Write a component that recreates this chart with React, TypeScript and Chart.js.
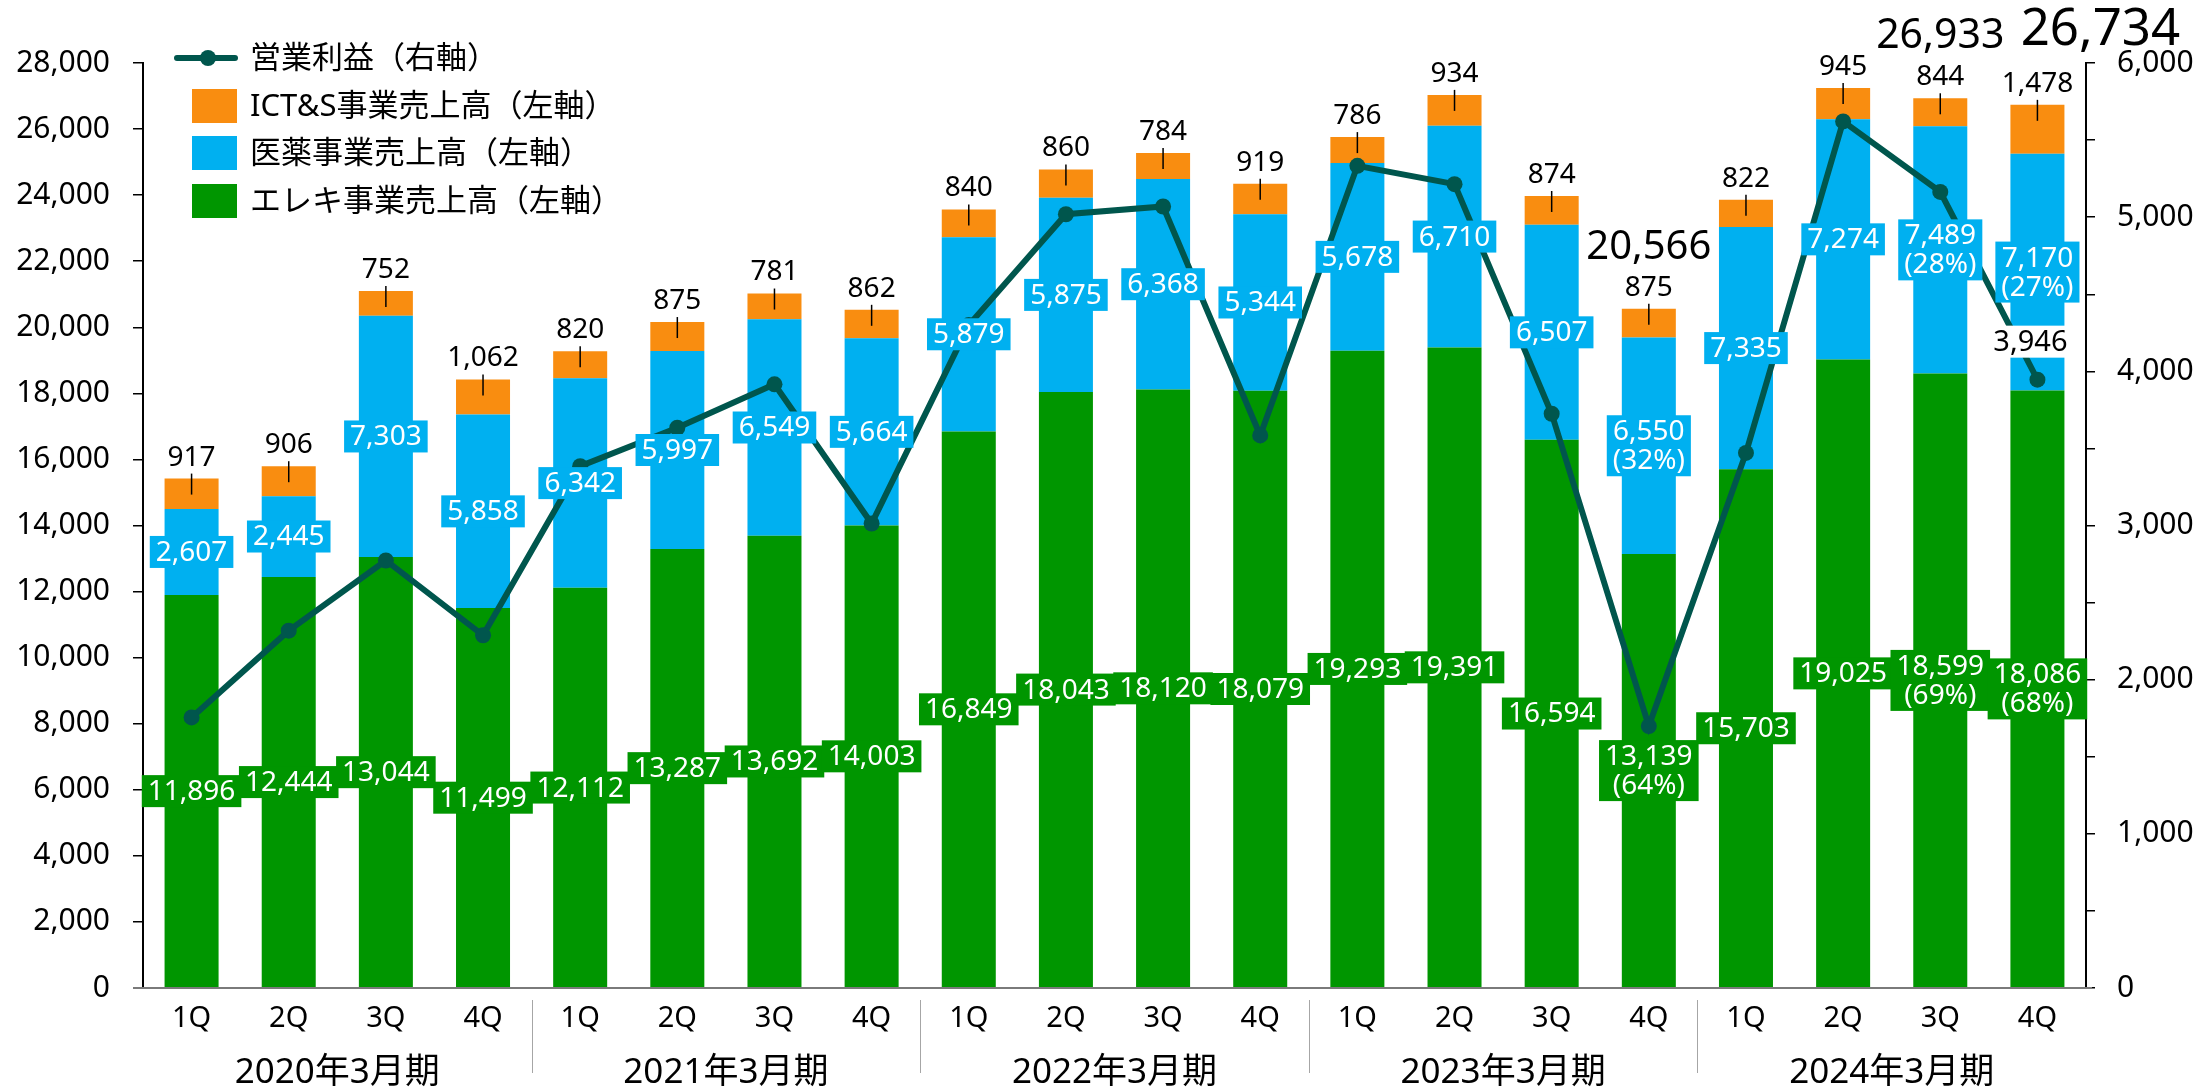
import React, { useEffect, useRef } from 'react';
import { Chart, registerables } from 'chart.js';

Chart.register(...registerables);

// ---------- data ----------
const quarters = [
  '1Q', '2Q', '3Q', '4Q',
  '1Q', '2Q', '3Q', '4Q',
  '1Q', '2Q', '3Q', '4Q',
  '1Q', '2Q', '3Q', '4Q',
  '1Q', '2Q', '3Q', '4Q',
];
const fiscalYears = ['2020年3月期', '2021年3月期', '2022年3月期', '2023年3月期', '2024年3月期'];

const elekiSales = [11896, 12444, 13044, 11499, 12112, 13287, 13692, 14003, 16849, 18043, 18120, 18079, 19293, 19391, 16594, 13139, 15703, 19025, 18599, 18086];
const pharmaSales = [2607, 2445, 7303, 5858, 6342, 5997, 6549, 5664, 5879, 5875, 6368, 5344, 5678, 6710, 6507, 6550, 7335, 7274, 7489, 7170];
const ictSales = [917, 906, 752, 1062, 820, 875, 781, 862, 840, 860, 784, 919, 786, 934, 874, 875, 822, 945, 844, 1478];
const operatingProfit = [1755, 2318, 2773, 2288, 3385, 3634, 3916, 3013, 4300, 5019, 5069, 3584, 5333, 5214, 3725, 1699, 3471, 5621, 5164, 3946];

// share (%) shown under some segment labels
const elekiShare: (number | null)[] = [null, null, null, null, null, null, null, null, null, null, null, null, null, null, null, 64, null, null, 69, 68];
const pharmaShare: (number | null)[] = [null, null, null, null, null, null, null, null, null, null, null, null, null, null, null, 32, null, null, 28, 27];
// total sales labels shown above some bars
const totalLabels: (number | null)[] = [null, null, null, null, null, null, null, null, null, null, null, null, null, null, null, 20566, null, null, 26933, 26734];
// operating profit labels shown for some points
const profitLabels: (number | null)[] = [null, null, null, null, null, null, null, null, null, null, null, null, null, null, null, null, null, null, null, 3946];

const leftMax = 28000;
const leftStep = 2000;
const rightMax = 6000;
const rightStep = 500;

const legendItems = ['営業利益（右軸）', 'ICT&S事業売上高（左軸）', '医薬事業売上高（左軸）', 'エレキ事業売上高（左軸）'];

// ---------- styles ----------
const GREEN = '#009600';
const BLUE = '#00B0F0';
const ORANGE = '#F98D10';
const LINE = '#00564D';
const FONT = "'Noto Sans', 'Noto Sans CJK JP', sans-serif";

const fmt = (v: number) => v.toLocaleString('en-US');

function drawBoxLabel(
  ctx: CanvasRenderingContext2D,
  lines: string[],
  cx: number,
  cy: number,
  bg: string,
  color: string,
  size: number,
) {
  ctx.save();
  ctx.font = `${size}px ${FONT}`;
  const lineH = 29;
  const padX = 6;
  const padY = 1.5;
  const w = Math.max(...lines.map((l) => ctx.measureText(l).width)) + padX * 2;
  const h = lines.length * lineH + padY * 2;
  ctx.fillStyle = bg;
  ctx.fillRect(cx - w / 2, cy - h / 2, w, h);
  ctx.fillStyle = color;
  ctx.textAlign = 'center';
  ctx.textBaseline = 'middle';
  lines.forEach((l, k) => {
    ctx.fillText(l, cx, cy - h / 2 + padY + lineH * (k + 0.5) + 1);
  });
  ctx.restore();
}

const totalStyle: Record<number, { dx: number; dy: number; size: number }> = {
  15: { dx: 0, dy: -61, size: 40 },
  18: { dx: 0, dy: -62, size: 41 },
  19: { dx: 63, dy: -74, size: 51 },
};

const labelsPlugin = {
  id: 'customLabels',
  afterDatasetsDraw(chart: any) {
    const ctx: CanvasRenderingContext2D = chart.ctx;
    const gMeta = chart.getDatasetMeta(0);
    const bMeta = chart.getDatasetMeta(1);
    const oMeta = chart.getDatasetMeta(2);
    const lMeta = chart.getDatasetMeta(3);
    for (let i = 0; i < quarters.length; i++) {
      const g = gMeta.data[i];
      const b = bMeta.data[i];
      const o = oMeta.data[i];
      // green label
      const gl = [fmt(elekiSales[i])];
      if (elekiShare[i] != null) gl.push(`(${elekiShare[i]}%)`);
      drawBoxLabel(ctx, gl, g.x, (g.y + g.base) / 2, GREEN, '#fff', 28);
      // blue label
      const bl = [fmt(pharmaSales[i])];
      if (pharmaShare[i] != null) bl.push(`(${pharmaShare[i]}%)`);
      drawBoxLabel(ctx, bl, b.x, (b.y + b.base) / 2, BLUE, '#fff', 28);
      // orange label above with leader tick
      const top = o.y;
      ctx.save();
      ctx.strokeStyle = '#000';
      ctx.lineWidth = 1.5;
      ctx.beginPath();
      ctx.moveTo(o.x, top - 5);
      ctx.lineTo(o.x, top + 16);
      ctx.stroke();
      ctx.fillStyle = '#000';
      ctx.font = `28px ${FONT}`;
      ctx.textAlign = 'center';
      ctx.textBaseline = 'middle';
      ctx.fillText(fmt(ictSales[i]), o.x, top - 21);
      // total labels
      const t = totalLabels[i];
      if (t != null) {
        const st = totalStyle[i] || { dx: 0, dy: -61, size: 40 };
        ctx.font = `${st.size}px ${FONT}`;
        ctx.fillText(fmt(t), o.x + st.dx, top + st.dy);
      }
      ctx.restore();
      // profit labels
      const p = profitLabels[i];
      if (p != null) {
        const pt = lMeta.data[i];
        drawBoxLabel(ctx, [fmt(p)], pt.x - 7, pt.y - 38, '#fff', '#000', 29);
      }
    }
  },
  afterDraw(chart: any) {
    const ctx: CanvasRenderingContext2D = chart.ctx;
    const xs = chart.scales.x;
    const area = chart.chartArea;
    ctx.save();
    // x axis line
    ctx.strokeStyle = '#7a7a7a';
    ctx.lineWidth = 2;
    ctx.beginPath();
    ctx.moveTo(area.left - 10, area.bottom);
    ctx.lineTo(area.right + 6, area.bottom);
    ctx.stroke();
    // separators and year labels
    ctx.strokeStyle = '#a6a6a6';
    ctx.lineWidth = 1;
    for (let g = 0; g < fiscalYears.length; g++) {
      const x0 = xs.getPixelForValue(g * 4);
      const x3 = xs.getPixelForValue(g * 4 + 3);
      if (g > 0) {
        const sx = Math.round((xs.getPixelForValue(g * 4 - 1) + x0) / 2) + 0.5;
        ctx.beginPath();
        ctx.moveTo(sx, area.bottom + 12);
        ctx.lineTo(sx, area.bottom + 85);
        ctx.stroke();
      }
      ctx.fillStyle = '#000';
      ctx.font = `35px ${FONT}`;
      ctx.textAlign = 'center';
      ctx.textBaseline = 'middle';
      ctx.fillText(fiscalYears[g], (x0 + x3) / 2, area.bottom + 85);
    }
    // legend
    const lx = 175;
    const rows = [58, 106, 153, 201];
    ctx.strokeStyle = LINE;
    ctx.lineWidth = 6;
    ctx.lineCap = 'round';
    ctx.beginPath();
    ctx.moveTo(lx + 2, rows[0]);
    ctx.lineTo(lx + 60, rows[0]);
    ctx.stroke();
    ctx.fillStyle = LINE;
    ctx.beginPath();
    ctx.arc(lx + 33, rows[0], 8, 0, Math.PI * 2);
    ctx.fill();
    const boxColors = [ORANGE, BLUE, GREEN];
    boxColors.forEach((c, k) => {
      ctx.fillStyle = c;
      ctx.fillRect(192, rows[k + 1] - 17, 45, 34);
    });
    ctx.fillStyle = '#000';
    ctx.font = `31px ${FONT}`;
    ctx.textAlign = 'left';
    ctx.textBaseline = 'middle';
    legendItems.forEach((t, k) => ctx.fillText(t, 250, rows[k] + 1));
    ctx.restore();
  },
};

export default function App() {
  const ref = useRef<HTMLCanvasElement | null>(null);
  useEffect(() => {
    if (!ref.current) return;
    const axisFont = { family: FONT, size: 30 };
    const chart = new Chart(ref.current, {
      data: {
        labels: quarters,
        datasets: [
          { type: 'bar', label: legendItems[3], data: elekiSales, backgroundColor: GREEN, yAxisID: 'y', stack: 's', order: 1, barPercentage: 0.556, categoryPercentage: 1, borderWidth: 0 } as any,
          { type: 'bar', label: legendItems[2], data: pharmaSales, backgroundColor: BLUE, yAxisID: 'y', stack: 's', order: 1, barPercentage: 0.556, categoryPercentage: 1, borderWidth: 0 } as any,
          { type: 'bar', label: legendItems[1], data: ictSales, backgroundColor: ORANGE, yAxisID: 'y', stack: 's', order: 1, barPercentage: 0.556, categoryPercentage: 1, borderWidth: 0 } as any,
          { type: 'line', label: legendItems[0], data: operatingProfit, yAxisID: 'y1', borderColor: LINE, backgroundColor: LINE, borderWidth: 6, pointRadius: 8, pointBackgroundColor: LINE, pointBorderWidth: 0, tension: 0, order: 0 } as any,
        ],
      },
      options: {
        responsive: false,
        maintainAspectRatio: false,
        animation: false,
        layout: { padding: { top: 63, left: 0, right: 0, bottom: 0 } },
        plugins: { legend: { display: false }, tooltip: { enabled: false } },
        scales: {
          x: {
            stacked: true,
            grid: { display: false, drawTicks: false },
            border: { display: false },
            ticks: { font: { family: FONT, size: 29 }, color: '#000', padding: 13, autoSkip: false, maxRotation: 0 },
            afterFit: (s: any) => { s.height = 101; },
          },
          y: {
            stacked: true,
            position: 'left',
            min: 0,
            max: leftMax,
            ticks: { stepSize: leftStep, font: axisFont, color: '#000', padding: 23, callback: (v: any) => fmt(Number(v)) },
            grid: { display: true, drawOnChartArea: false, drawTicks: true, tickLength: 10, color: '#000', lineWidth: 1.5 },
            border: { display: true, color: '#000', width: 2 },
            afterFit: (s: any) => { s.width = 143; },
          },
          y1: {
            position: 'right',
            min: 0,
            max: rightMax,
            ticks: { stepSize: rightStep, font: axisFont, color: '#000', padding: 22, callback: (v: any) => (Number(v) % 1000 === 0 ? fmt(Number(v)) : '') },
            grid: { display: true, drawOnChartArea: false, drawTicks: true, tickLength: 9, color: '#000', lineWidth: 1.5 },
            border: { display: true, color: '#000', width: 2 },
            afterFit: (s: any) => { s.width = 118; },
          },
        },
      } as any,
      plugins: [labelsPlugin],
    });
    return () => chart.destroy();
  }, []);
  return (
    <div style={{ position: 'fixed', left: 0, top: 0, width: 2204, height: 1089, background: '#fff' }}>
      <canvas ref={ref} width={2204} height={1089} style={{ display: 'block', width: 2204, height: 1089 }} />
    </div>
  );
}
